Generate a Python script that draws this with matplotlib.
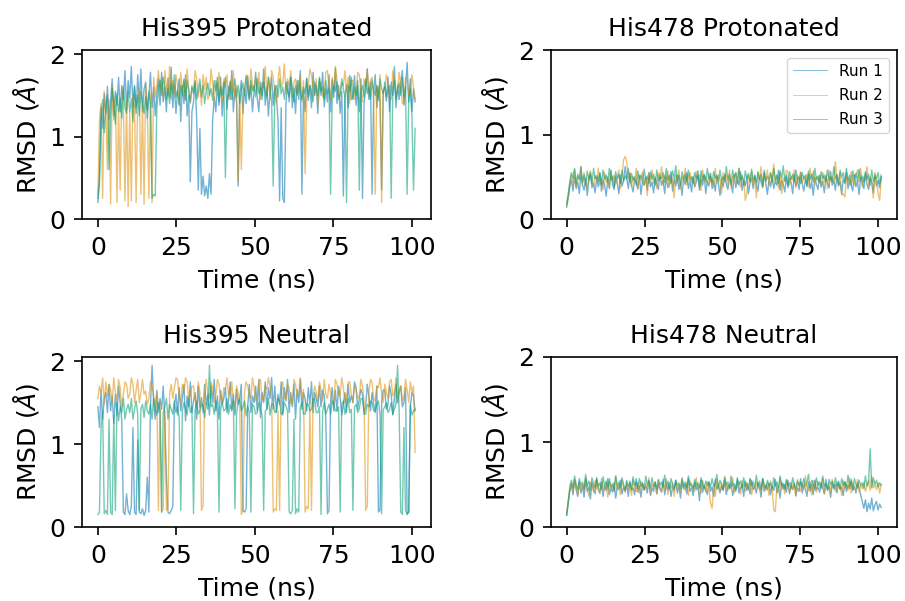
"""
RMSD of His395 / His478 side chains, 3 runs each
"""

import numpy as np
import matplotlib
matplotlib.use("Agg")

import matplotlib.pyplot as plt

# ── DATA (RMSD in Angstrom, ~0.5 ns apart) ─────────────────────────────
run_labels = ["Run 1", "Run 2", "Run 3"]
panel_titles = ["His395 Protonated", "His478 Protonated",
                "His395 Neutral", "His478 Neutral"]
t_end = 101

# His395 protonated
p395_r1 = [0.20, 0.45, 1.35, 1.10, 1.52, 1.28, 1.61, 1.20, 1.44, 1.70,
           1.25, 1.55, 1.38, 1.72, 1.30, 1.62, 1.45, 1.80, 1.33, 1.68,
           1.47, 1.85, 1.36, 1.62, 1.28, 1.75, 1.41, 1.82, 1.30, 1.58,
           1.66, 1.22, 1.49, 1.78, 1.35, 1.60, 1.25, 1.52, 1.70, 1.38,
           1.78, 1.42, 1.60, 1.30, 1.71, 1.48, 1.84, 1.35, 1.62, 1.28,
           1.55, 1.70, 1.18, 1.62, 1.40, 1.75, 1.25, 1.50, 0.45, 1.30,
           1.42, 1.68, 1.20, 0.35, 1.10, 0.30, 0.52, 0.28, 0.40, 0.25,
           0.55, 0.30, 1.20, 1.48, 1.30, 1.65, 1.38, 1.72, 1.25, 1.56,
           1.72, 1.33, 1.61, 1.45, 1.80, 1.30, 1.58, 1.42, 0.40, 1.52,
           1.68, 1.28, 1.58, 1.40, 1.74, 1.46, 1.62, 1.30, 1.55, 1.78,
           1.46, 1.30, 1.66, 1.50, 1.82, 1.38, 1.60, 1.25, 1.55, 1.72,
           1.38, 1.62, 1.48, 1.20, 0.22, 1.35, 0.25, 0.20, 1.40, 1.66,
           1.42, 1.72, 1.35, 1.59, 1.28, 1.68, 1.45, 1.80, 0.30, 1.55,
           1.30, 1.71, 1.44, 1.62, 1.35, 1.78, 1.50, 1.62, 1.28, 1.70,
           1.50, 1.78, 1.36, 1.58, 1.42, 1.75, 1.30, 1.69, 1.47, 1.83,
           1.40, 1.62, 1.28, 1.55, 0.28, 1.48, 1.63, 1.35, 1.74, 1.45,
           1.48, 1.74, 1.38, 1.62, 1.30, 1.70, 0.25, 1.42, 1.57, 1.82,
           1.45, 1.66, 0.30, 1.52, 1.75, 1.35, 1.60, 1.40, 0.35, 1.55,
           1.60, 1.43, 1.72, 1.30, 1.66, 1.50, 1.85, 1.35, 1.62, 1.45,
           1.65, 1.80, 1.38, 1.58, 1.90, 1.42, 1.70, 1.30, 1.58, 1.42]
p395_r2 = [0.30, 1.20, 1.40, 0.25, 1.55, 1.30, 0.60, 1.45, 0.18, 1.62,
           1.20, 1.50, 0.20, 1.35, 0.35, 1.58, 1.40, 0.22, 1.45, 0.15,
           1.30, 0.22, 1.50, 1.35, 0.20, 1.48, 1.58, 0.30, 1.42, 0.18,
           1.65, 1.38, 0.25, 1.52, 0.20, 1.72, 1.48, 1.62, 1.80, 1.55,
           1.72, 1.45, 1.80, 1.60, 1.50, 1.85, 1.45, 1.68, 1.52, 1.75,
           1.62, 1.40, 1.78, 1.55, 1.68, 1.45, 1.82, 1.58, 1.40, 1.62,
           1.55, 1.80, 1.70, 1.48, 1.63, 1.38, 1.75, 1.57, 1.72, 1.45,
           1.50, 1.82, 1.65, 1.42, 1.68, 1.52, 1.78, 1.60, 1.42, 1.70,
           1.60, 1.75, 1.45, 1.68, 1.52, 1.80, 1.46, 1.62, 0.45, 1.50,
           0.60, 1.40, 1.58, 1.75, 1.70, 1.48, 1.82, 1.62, 1.55, 1.72,
           1.55, 1.78, 1.45, 1.65, 1.60, 1.85, 1.50, 1.72, 1.45, 1.80,
           1.72, 1.55, 1.40, 1.68, 1.85, 1.60, 1.65, 1.88, 1.52, 1.70,
           1.62, 1.80, 1.48, 1.66, 1.70, 1.52, 1.55, 1.75, 1.42, 1.68,
           0.55, 1.45, 1.60, 1.82, 1.75, 1.58, 1.50, 1.70, 1.38, 1.62,
           1.66, 1.48, 1.52, 1.78, 1.80, 1.60, 1.45, 1.72, 1.58, 1.85,
           1.70, 1.50, 1.48, 1.65, 1.62, 1.80, 1.55, 1.72, 1.40, 1.68,
           1.68, 1.45, 1.50, 1.78, 1.75, 1.55, 1.42, 1.70, 1.60, 1.82,
           1.52, 1.68, 1.72, 1.45, 0.30, 1.62, 1.48, 1.75, 0.20, 1.55,
           1.58, 1.75, 1.65, 1.45, 1.45, 1.80, 1.70, 1.52, 1.55, 1.78,
           1.62, 1.40, 1.40, 1.72, 1.68, 1.50, 1.52, 1.75, 1.60, 1.45]
p395_r3 = [0.25, 0.50, 1.20, 1.45, 1.05, 1.32, 1.50, 0.60, 1.25, 1.58,
           1.40, 1.15, 1.52, 1.30, 1.46, 1.22, 1.60, 1.35, 1.28, 1.55,
           1.30, 1.46, 1.18, 1.60, 1.35, 1.50, 1.25, 1.55, 1.40, 1.28,
           1.48, 1.32, 1.55, 1.40, 0.25, 0.30, 0.28, 1.35, 1.55, 1.68,
           1.50, 1.72, 1.62, 1.45, 1.58, 1.40, 1.65, 1.52, 1.75, 1.48,
           1.56, 1.38, 1.62, 1.50, 1.70, 1.44, 1.68, 1.55, 1.42, 1.60,
           1.52, 1.66, 1.45, 1.58, 1.70, 1.48, 1.62, 1.40, 1.56, 1.65,
           1.50, 1.58, 1.44, 1.68, 1.55, 1.72, 1.42, 1.60, 1.50, 1.66,
           0.50, 1.45, 1.52, 1.66, 1.45, 1.58, 1.70, 1.48, 1.62, 1.40,
           1.56, 1.65, 1.50, 1.72, 1.58, 1.44, 1.68, 1.55, 1.62, 1.48,
           1.70, 1.52, 1.60, 1.45, 1.66, 1.55, 1.48, 1.72, 1.58, 1.42,
           0.40, 1.55, 1.62, 1.48, 1.70, 1.52, 1.60, 1.45, 1.66, 1.55,
           1.48, 1.72, 1.58, 1.42, 1.62, 1.50, 1.68, 1.55, 1.45, 1.60,
           1.52, 1.70, 1.48, 1.62, 1.55, 1.42, 1.66, 1.58, 1.50, 1.72,
           1.55, 1.60, 1.45, 1.68, 1.52, 1.58, 0.30, 1.48, 1.62, 1.55,
           1.66, 1.45, 1.52, 1.70, 1.58, 1.48, 0.20, 1.62, 1.55, 1.72,
           1.45, 1.60, 1.50, 1.68, 0.35, 1.55, 1.62, 1.48, 1.70, 1.52,
           1.60, 1.45, 1.68, 1.55, 1.50, 1.62, 1.44, 1.70, 1.58, 1.52,
           1.66, 1.48, 1.55, 1.62, 0.25, 1.50, 1.68, 1.45, 1.58, 1.65,
           1.50, 1.72, 1.48, 1.60, 0.30, 1.45, 1.58, 1.25, 0.35, 1.10]

# His478 protonated
p478_r1 = [0.14, 0.25, 0.38, 0.46, 0.33, 0.50, 0.36, 0.44, 0.30, 0.52,
           0.40, 0.34, 0.48, 0.28, 0.45, 0.55, 0.37, 0.42, 0.31, 0.49,
           0.38, 0.53, 0.33, 0.46, 0.40, 0.27, 0.47, 0.36, 0.58, 0.41,
           0.35, 0.50, 0.43, 0.30, 0.52, 0.39, 0.45, 0.62, 0.48, 0.36,
           0.54, 0.40, 0.32, 0.47, 0.43, 0.36, 0.51, 0.29, 0.45, 0.40,
           0.49, 0.34, 0.55, 0.38, 0.44, 0.31, 0.48, 0.42, 0.35, 0.53,
           0.40, 0.46, 0.30, 0.50, 0.37, 0.44, 0.56, 0.33, 0.47, 0.39,
           0.52, 0.35, 0.43, 0.28, 0.48, 0.41, 0.55, 0.36, 0.45, 0.32,
           0.50, 0.38, 0.44, 0.57, 0.34, 0.47, 0.40, 0.52, 0.30, 0.45,
           0.39, 0.54, 0.36, 0.46, 0.33, 0.50, 0.42, 0.28, 0.47, 0.38,
           0.53, 0.41, 0.35, 0.48, 0.44, 0.31, 0.52, 0.37, 0.46, 0.40,
           0.56, 0.34, 0.45, 0.39, 0.50, 0.30, 0.43, 0.48, 0.36, 0.52,
           0.40, 0.33, 0.49, 0.44, 0.37, 0.55, 0.42, 0.29, 0.47, 0.38,
           0.51, 0.36, 0.45, 0.40, 0.58, 0.34, 0.46, 0.41, 0.32, 0.50,
           0.37, 0.48, 0.43, 0.30, 0.52, 0.39, 0.46, 0.35, 0.55, 0.42,
           0.33, 0.47, 0.40, 0.53, 0.36, 0.44, 0.28, 0.49, 0.41, 0.35,
           0.52, 0.38, 0.45, 0.31, 0.50, 0.43, 0.37, 0.56, 0.40, 0.46,
           0.34, 0.51, 0.39, 0.44, 0.30, 0.48, 0.42, 0.55, 0.36, 0.47,
           0.40, 0.33, 0.52, 0.38, 0.45, 0.29, 0.49, 0.43, 0.36, 0.54,
           0.41, 0.35, 0.48, 0.44, 0.31, 0.53, 0.39, 0.46, 0.37, 0.50]
p478_r2 = [0.16, 0.28, 0.42, 0.52, 0.40, 0.58, 0.38, 0.50, 0.46, 0.62,
           0.40, 0.55, 0.43, 0.36, 0.50, 0.57, 0.45, 0.39, 0.52, 0.44,
           0.60, 0.40, 0.48, 0.35, 0.55, 0.43, 0.50, 0.38, 0.56, 0.46,
           0.52, 0.41, 0.47, 0.58, 0.36, 0.50, 0.70, 0.74, 0.68, 0.48,
           0.55, 0.38, 0.50, 0.44, 0.60, 0.35, 0.52, 0.46, 0.56, 0.40,
           0.50, 0.28, 0.54, 0.45, 0.58, 0.42, 0.50, 0.36, 0.55, 0.47,
           0.62, 0.40, 0.52, 0.44, 0.57, 0.38, 0.50, 0.46, 0.25, 0.53,
           0.42, 0.58, 0.36, 0.50, 0.44, 0.60, 0.40, 0.48, 0.55, 0.43,
           0.50, 0.38, 0.56, 0.45, 0.52, 0.34, 0.58, 0.46, 0.50, 0.41,
           0.54, 0.44, 0.48, 0.37, 0.60, 0.42, 0.52, 0.46, 0.30, 0.55,
           0.47, 0.52, 0.40, 0.58, 0.36, 0.50, 0.45, 0.55, 0.42, 0.60,
           0.38, 0.50, 0.46, 0.22, 0.30, 0.52, 0.44, 0.56, 0.40, 0.48,
           0.25, 0.55, 0.46, 0.62, 0.38, 0.50, 0.45, 0.58, 0.40, 0.54,
           0.48, 0.65, 0.42, 0.52, 0.36, 0.55, 0.30, 0.48, 0.44, 0.58,
           0.55, 0.40, 0.50, 0.46, 0.58, 0.37, 0.52, 0.44, 0.56, 0.42,
           0.50, 0.46, 0.53, 0.38, 0.60, 0.44, 0.57, 0.40, 0.50, 0.45,
           0.50, 0.38, 0.55, 0.44, 0.52, 0.36, 0.58, 0.45, 0.50, 0.42,
           0.68, 0.48, 0.42, 0.55, 0.28, 0.30, 0.26, 0.50, 0.48, 0.40,
           0.56, 0.45, 0.40, 0.52, 0.58, 0.44, 0.60, 0.38, 0.50, 0.46,
           0.62, 0.40, 0.50, 0.44, 0.25, 0.55, 0.48, 0.30, 0.22, 0.48]
p478_r3 = [0.18, 0.30, 0.45, 0.55, 0.48, 0.60, 0.42, 0.53, 0.47, 0.62,
           0.44, 0.52, 0.40, 0.57, 0.46, 0.53, 0.42, 0.60, 0.48, 0.51,
           0.45, 0.55, 0.41, 0.58, 0.47, 0.52, 0.44, 0.60, 0.46, 0.50,
           0.38, 0.56, 0.48, 0.53, 0.42, 0.58, 0.45, 0.51, 0.47, 0.60,
           0.43, 0.54, 0.46, 0.50, 0.40, 0.57, 0.48, 0.52, 0.44, 0.59,
           0.46, 0.51, 0.42, 0.56, 0.47, 0.53, 0.40, 0.58, 0.45, 0.50,
           0.48, 0.55, 0.43, 0.60, 0.46, 0.52, 0.42, 0.57, 0.48, 0.63,
           0.45, 0.52, 0.40, 0.56, 0.47, 0.53, 0.44, 0.58, 0.46, 0.50,
           0.42, 0.55, 0.48, 0.52, 0.38, 0.57, 0.46, 0.53, 0.44, 0.60,
           0.47, 0.51, 0.43, 0.56, 0.48, 0.52, 0.45, 0.58, 0.46, 0.50,
           0.44, 0.62, 0.47, 0.53, 0.41, 0.58, 0.49, 0.55, 0.43, 0.60,
           0.46, 0.52, 0.40, 0.57, 0.48, 0.54, 0.44, 0.59, 0.46, 0.51,
           0.43, 0.56, 0.47, 0.53, 0.40, 0.58, 0.45, 0.50, 0.48, 0.55,
           0.43, 0.60, 0.46, 0.52, 0.42, 0.57, 0.48, 0.63, 0.45, 0.52,
           0.40, 0.56, 0.47, 0.53, 0.44, 0.58, 0.46, 0.50, 0.42, 0.55,
           0.48, 0.52, 0.38, 0.57, 0.46, 0.53, 0.44, 0.60, 0.47, 0.51,
           0.43, 0.56, 0.48, 0.52, 0.45, 0.58, 0.46, 0.50, 0.44, 0.62,
           0.47, 0.53, 0.41, 0.58, 0.49, 0.55, 0.43, 0.60, 0.46, 0.52,
           0.40, 0.57, 0.48, 0.54, 0.44, 0.59, 0.46, 0.51, 0.43, 0.56,
           0.47, 0.53, 0.40, 0.58, 0.45, 0.50, 0.48, 0.55, 0.42, 0.52]

# His395 neutral
n395_r1 = [1.45, 1.20, 1.65, 1.30, 1.55, 1.62, 1.38, 1.72, 1.40, 1.58,
           1.25, 1.60, 1.35, 1.70, 1.50, 1.28, 0.18, 0.15, 0.40, 0.20,
           0.15, 0.25, 1.20, 0.18, 0.15, 1.05, 0.18, 0.16, 0.22, 0.14,
           0.20, 0.60, 0.18, 1.45, 1.95, 1.50, 1.30, 1.65, 1.38, 1.55,
           1.42, 1.70, 1.30, 0.60, 0.18, 0.16, 0.20, 0.25, 1.48, 1.60,
           1.35, 1.68, 1.40, 1.55, 1.72, 1.28, 1.58, 1.45, 1.75, 1.38,
           1.52, 1.62, 1.30, 1.70, 1.44, 1.56, 1.38, 1.72, 1.48, 1.60,
           1.35, 1.70, 1.50, 1.78, 1.40, 1.58, 1.30, 1.65, 1.48, 1.55,
           1.68, 1.38, 1.52, 1.75, 1.42, 1.60, 1.35, 1.66, 1.48, 1.55,
           1.72, 0.20, 0.18, 0.22, 1.45, 1.72, 1.38, 1.58, 1.50, 1.70,
           1.40, 1.78, 1.32, 1.62, 1.50, 1.75, 1.42, 1.68, 1.55, 1.80,
           1.42, 1.70, 1.38, 1.60, 1.48, 1.75, 1.35, 1.68, 1.52, 1.78,
           1.38, 1.62, 1.45, 1.72, 1.30, 1.66, 1.50, 1.78, 1.42, 1.62,
           1.55, 1.40, 1.68, 1.48, 1.75, 1.38, 1.62, 1.55, 1.45, 1.70,
           1.45, 1.65, 1.58, 1.30, 0.16, 0.20, 1.52, 1.68, 1.40, 1.65,
           1.40, 1.70, 1.56, 1.35, 1.48, 1.62, 1.38, 1.72, 1.50, 1.58,
           1.50, 1.75, 1.68, 1.42, 1.55, 1.66, 1.60, 1.38, 1.45, 1.72,
           1.58, 1.40, 1.62, 1.48, 1.38, 1.70, 0.18, 0.20, 1.52, 1.65,
           1.65, 1.42, 1.48, 1.70, 1.60, 1.35, 1.55, 1.72, 1.50, 1.62,
           1.70, 1.45, 1.50, 1.68, 0.15, 0.18, 1.45, 1.62, 1.58, 1.40]
n395_r2 = [1.55, 1.70, 1.62, 1.80, 1.48, 1.75, 1.58, 1.72, 1.66, 1.50,
           1.80, 1.62, 1.52, 1.78, 1.68, 1.45, 1.60, 1.75, 1.72, 1.55,
           1.60, 1.80, 1.72, 1.50, 1.65, 1.78, 1.50, 1.62, 1.78, 1.60,
           1.64, 1.48, 1.55, 1.75, 1.70, 1.58, 1.45, 1.62, 0.20, 1.50,
           0.18, 0.22, 1.40, 0.20, 0.25, 1.60, 1.72, 1.55, 1.68, 1.80,
           1.78, 1.58, 1.50, 1.72, 1.62, 1.80, 1.75, 1.55, 1.58, 1.70,
           1.70, 1.52, 1.48, 1.75, 1.62, 0.20, 0.25, 1.65, 1.78, 1.60,
           1.55, 1.75, 1.68, 1.50, 1.60, 1.78, 1.72, 1.55, 1.50, 1.68,
           1.66, 1.80, 1.58, 1.62, 1.75, 1.52, 1.45, 1.70, 1.62, 1.48,
           0.15, 0.20, 1.62, 1.75, 1.70, 1.58, 1.55, 1.80, 1.68, 1.52,
           1.60, 1.75, 1.78, 1.55, 1.52, 1.70, 1.66, 1.80, 1.70, 1.58,
           0.18, 0.22, 0.20, 1.40, 0.20, 1.62, 1.75, 1.55, 1.55, 1.72,
           1.68, 1.50, 1.48, 1.78, 1.72, 1.58, 1.60, 1.80, 1.55, 1.66,
           0.18, 0.25, 0.22, 1.50, 0.20, 1.58, 1.70, 1.62, 1.52, 1.75,
           1.66, 1.52, 1.78, 1.60, 1.55, 1.72, 1.62, 1.50, 1.48, 1.78,
           1.72, 1.58, 1.60, 1.80, 1.68, 1.50, 1.55, 1.75, 1.75, 1.60,
           1.50, 1.70, 1.66, 1.55, 1.58, 1.78, 1.70, 1.52, 0.20, 0.25,
           1.62, 1.78, 1.75, 1.55, 1.52, 1.70, 1.68, 1.80, 1.60, 1.50,
           1.72, 1.62, 1.55, 1.75, 1.78, 1.58, 1.62, 1.80, 1.50, 1.66,
           1.70, 1.52, 1.58, 1.78, 1.66, 1.50, 1.75, 1.62, 1.70, 0.90]
n395_r3 = [0.15, 0.18, 1.20, 1.40, 0.16, 0.20, 0.15, 1.30, 0.18, 0.15,
           1.35, 0.20, 1.50, 1.28, 1.45, 1.38, 1.55, 1.30, 1.42, 1.48,
           1.38, 1.55, 1.30, 1.42, 1.52, 1.36, 0.20, 1.42, 1.48, 1.32,
           1.52, 1.40, 1.36, 1.48, 1.30, 1.55, 1.42, 1.35, 1.50, 1.40,
           0.18, 1.38, 1.45, 1.55, 1.30, 1.48, 1.42, 1.36, 1.52, 1.38,
           1.45, 1.32, 0.20, 1.40, 1.50, 1.42, 1.35, 1.55, 1.38, 1.45,
           0.16, 1.40, 1.52, 1.36, 1.40, 1.48, 1.46, 1.32, 1.50, 1.42,
           1.95, 1.45, 1.48, 1.36, 1.52, 1.38, 0.18, 1.42, 1.50, 1.40,
           1.42, 1.55, 1.36, 1.48, 1.40, 1.52, 0.22, 1.38, 1.48, 1.55,
           1.40, 1.45, 1.52, 1.34, 1.46, 1.38, 0.18, 1.48, 1.45, 1.36,
           1.38, 1.50, 1.42, 1.35, 0.20, 1.40, 1.42, 1.55, 1.35, 1.48,
           1.48, 1.38, 1.40, 1.55, 1.52, 1.36, 1.38, 1.50, 1.46, 1.40,
           0.18, 0.16, 0.20, 1.30, 0.16, 0.22, 0.18, 1.45, 1.50, 1.36,
           1.36, 1.48, 1.48, 1.40, 1.42, 1.55, 1.55, 1.38, 1.38, 1.45,
           0.15, 1.40, 1.50, 1.36, 1.42, 1.48, 1.36, 1.52, 1.48, 1.40,
           1.40, 1.45, 0.18, 1.48, 1.52, 1.36, 1.45, 1.55, 1.38, 1.42,
           0.20, 1.45, 1.48, 1.38, 1.42, 1.55, 1.55, 1.36, 1.36, 1.48,
           1.45, 1.52, 1.50, 1.40, 1.40, 1.48, 1.52, 1.35, 0.16, 1.42,
           1.45, 1.50, 1.38, 1.42, 1.50, 1.36, 1.42, 1.48, 1.95, 1.40,
           0.18, 0.15, 1.20, 0.20, 0.16, 0.18, 1.48, 1.35, 1.40, 1.42]

# His478 neutral
n478_r1 = [0.14, 0.30, 0.42, 0.50, 0.38, 0.55, 0.44, 0.36, 0.52, 0.40,
           0.48, 0.35, 0.56, 0.42, 0.47, 0.33, 0.52, 0.45, 0.39, 0.58,
           0.44, 0.40, 0.53, 0.36, 0.49, 0.43, 0.57, 0.38, 0.46, 0.41,
           0.52, 0.34, 0.48, 0.44, 0.55, 0.39, 0.47, 0.42, 0.50, 0.36,
           0.54, 0.43, 0.46, 0.38, 0.57, 0.41, 0.49, 0.35, 0.52, 0.44,
           0.48, 0.40, 0.55, 0.37, 0.46, 0.42, 0.53, 0.39, 0.50, 0.45,
           0.41, 0.56, 0.38, 0.49, 0.44, 0.52, 0.36, 0.47, 0.43, 0.55,
           0.40, 0.48, 0.34, 0.53, 0.45, 0.50, 0.39, 0.57, 0.42, 0.46,
           0.37, 0.52, 0.44, 0.48, 0.31, 0.55, 0.41, 0.49, 0.45, 0.38,
           0.53, 0.42, 0.47, 0.36, 0.56, 0.44, 0.50, 0.40, 0.48, 0.43,
           0.55, 0.38, 0.49, 0.45, 0.52, 0.37, 0.47, 0.42, 0.58, 0.40,
           0.46, 0.50, 0.36, 0.54, 0.43, 0.48, 0.39, 0.55, 0.44, 0.47,
           0.40, 0.52, 0.46, 0.35, 0.57, 0.42, 0.49, 0.44, 0.51, 0.38,
           0.48, 0.43, 0.56, 0.40, 0.47, 0.34, 0.53, 0.45, 0.50, 0.41,
           0.55, 0.39, 0.48, 0.44, 0.52, 0.37, 0.46, 0.42, 0.57, 0.40,
           0.49, 0.45, 0.36, 0.53, 0.42, 0.50, 0.38, 0.55, 0.44, 0.47,
           0.41, 0.52, 0.46, 0.39, 0.56, 0.43, 0.48, 0.35, 0.51, 0.45,
           0.50, 0.40, 0.54, 0.44, 0.47, 0.37, 0.53, 0.42, 0.49, 0.45,
           0.56, 0.43, 0.48, 0.40, 0.52, 0.46, 0.38, 0.30, 0.22, 0.32,
           0.18, 0.28, 0.21, 0.34, 0.19, 0.26, 0.30, 0.20, 0.27, 0.23]
n478_r2 = [0.16, 0.32, 0.45, 0.52, 0.40, 0.56, 0.47, 0.38, 0.54, 0.44,
           0.50, 0.42, 0.58, 0.46, 0.36, 0.53, 0.48, 0.41, 0.55, 0.45,
           0.50, 0.39, 0.57, 0.47, 0.43, 0.52, 0.35, 0.54, 0.46, 0.49,
           0.42, 0.60, 0.44, 0.50, 0.38, 0.55, 0.47, 0.41, 0.53, 0.45,
           0.49, 0.37, 0.56, 0.46, 0.42, 0.52, 0.40, 0.54, 0.47, 0.43,
           0.51, 0.45, 0.58, 0.40, 0.50, 0.46, 0.53, 0.39, 0.55, 0.47,
           0.42, 0.51, 0.44, 0.57, 0.38, 0.49, 0.46, 0.52, 0.36, 0.53,
           0.45, 0.50, 0.41, 0.56, 0.47, 0.43, 0.52, 0.37, 0.54, 0.46,
           0.49, 0.42, 0.58, 0.44, 0.50, 0.39, 0.55, 0.47, 0.41, 0.53,
           0.45, 0.28, 0.22, 0.49, 0.36, 0.56, 0.46, 0.42, 0.52, 0.44,
           0.60, 0.47, 0.43, 0.50, 0.45, 0.58, 0.40, 0.50, 0.46, 0.53,
           0.39, 0.55, 0.47, 0.42, 0.51, 0.44, 0.57, 0.38, 0.49, 0.46,
           0.53, 0.45, 0.50, 0.41, 0.56, 0.47, 0.43, 0.52, 0.37, 0.54,
           0.46, 0.20, 0.18, 0.49, 0.42, 0.58, 0.44, 0.50, 0.39, 0.55,
           0.47, 0.41, 0.53, 0.45, 0.49, 0.36, 0.56, 0.46, 0.42, 0.52,
           0.44, 0.60, 0.47, 0.43, 0.50, 0.38, 0.55, 0.46, 0.41, 0.53,
           0.48, 0.45, 0.57, 0.39, 0.50, 0.44, 0.52, 0.40, 0.56, 0.47,
           0.42, 0.53, 0.46, 0.49, 0.37, 0.55, 0.45, 0.50, 0.43, 0.58,
           0.40, 0.52, 0.47, 0.44, 0.56, 0.41, 0.50, 0.45, 0.53, 0.42,
           0.48, 0.55, 0.43, 0.60, 0.46, 0.50, 0.44, 0.52, 0.40, 0.50]
n478_r3 = [0.14, 0.28, 0.48, 0.55, 0.46, 0.60, 0.50, 0.44, 0.57, 0.49,
           0.53, 0.45, 0.62, 0.48, 0.54, 0.43, 0.58, 0.50, 0.46, 0.56,
           0.48, 0.52, 0.44, 0.59, 0.49, 0.54, 0.45, 0.57, 0.47, 0.51,
           0.43, 0.60, 0.48, 0.53, 0.46, 0.58, 0.50, 0.44, 0.55, 0.48,
           0.52, 0.45, 0.59, 0.49, 0.53, 0.46, 0.57, 0.48, 0.51, 0.44,
           0.60, 0.50, 0.54, 0.46, 0.58, 0.48, 0.52, 0.45, 0.56, 0.49,
           0.53, 0.47, 0.61, 0.48, 0.54, 0.44, 0.57, 0.50, 0.46, 0.55,
           0.49, 0.52, 0.45, 0.58, 0.48, 0.53, 0.46, 0.60, 0.49, 0.51,
           0.44, 0.56, 0.48, 0.52, 0.46, 0.58, 0.50, 0.45, 0.54, 0.49,
           0.53, 0.47, 0.57, 0.48, 0.52, 0.62, 0.46, 0.55, 0.50, 0.44,
           0.58, 0.49, 0.53, 0.46, 0.60, 0.48, 0.51, 0.44, 0.56, 0.50,
           0.54, 0.46, 0.58, 0.48, 0.52, 0.45, 0.57, 0.49, 0.53, 0.47,
           0.61, 0.48, 0.54, 0.44, 0.57, 0.50, 0.46, 0.55, 0.49, 0.52,
           0.45, 0.58, 0.48, 0.53, 0.46, 0.60, 0.49, 0.51, 0.44, 0.56,
           0.48, 0.52, 0.46, 0.58, 0.50, 0.45, 0.54, 0.49, 0.53, 0.47,
           0.57, 0.48, 0.52, 0.62, 0.46, 0.55, 0.50, 0.44, 0.58, 0.49,
           0.53, 0.46, 0.60, 0.48, 0.51, 0.44, 0.56, 0.50, 0.54, 0.46,
           0.58, 0.48, 0.52, 0.45, 0.57, 0.49, 0.53, 0.47, 0.61, 0.48,
           0.54, 0.44, 0.57, 0.50, 0.46, 0.55, 0.49, 0.52, 0.45, 0.60,
           0.48, 0.53, 0.92, 0.46, 0.58, 0.50, 0.55, 0.47, 0.52, 0.49]

# ── STYLE ─────────────────────────────────────────────
COLORS = ["#0173B2", "#DE8F05", "#029E73"]  # seaborn "colorblind"
LW = 1.0
ALPHA = 0.55
FS = 18

# axes boxes in figure fractions (left, bottom, width, height)
BOXES = [
    (0.0906, 0.6356, 0.3856, 0.2812),
    (0.6088, 0.6356, 0.3823, 0.2812),
    (0.0906, 0.1231, 0.3856, 0.2829),
    (0.6088, 0.1231, 0.3823, 0.2829),
]
YTOP = [2.05, 2.0, 2.05, 2.0]


def draw_panel(ax, runs, title, ytop, legend=False):
    for vals, c, lab in zip(runs, COLORS, run_labels):
        t = np.linspace(0, t_end, len(vals))
        ax.plot(t, vals, color=c, lw=LW, alpha=ALPHA, label=lab)
    ax.set_ylim(0, ytop)
    ax.set_xticks([0, 25, 50, 75, 100])
    ax.set_yticks([0, 1, 2])
    ax.set_title(title, fontsize=FS, pad=10)
    ax.set_xlabel("Time (ns)", fontsize=FS, labelpad=6)
    ax.set_ylabel("RMSD ($Å$)", fontsize=FS, labelpad=6)
    ax.tick_params(labelsize=FS, width=1.2, length=6, pad=6)
    for s in ax.spines.values():
        s.set_linewidth(1.2)
    if legend:
        leg = ax.legend(loc="upper right", fontsize=11, handlelength=2.2,
                        labelspacing=0.6)
        for ln in leg.get_lines():
            ln.set_linewidth(0.6)


# ── MAIN ──────────────────────────────────────────────
def main():
    fig = plt.figure(figsize=(9.05, 6.01), dpi=100)

    panels = [
        [p395_r1, p395_r2, p395_r3],
        [p478_r1, p478_r2, p478_r3],
        [n395_r1, n395_r2, n395_r3],
        [n478_r1, n478_r2, n478_r3],
    ]

    for i, runs in enumerate(panels):
        ax = fig.add_axes(BOXES[i])
        draw_panel(ax, runs, panel_titles[i], YTOP[i], legend=(i == 1))

    fig.savefig("out.png", dpi=100)
    plt.close(fig)


if __name__ == "__main__":
    main()
